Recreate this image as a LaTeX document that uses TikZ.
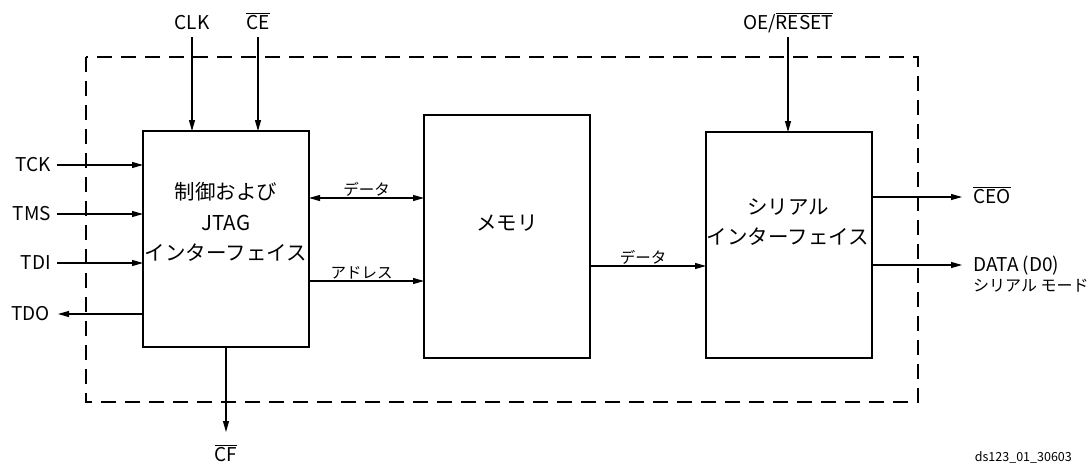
\documentclass[tikz,border=0pt]{standalone}
\usepackage{fontspec}
\setmainfont{Noto Sans CJK JP}
\usetikzlibrary{arrows.meta}
\newcommand{\ovl}[1]{$\overline{\mbox{#1}}$}
\begin{document}
\begin{tikzpicture}[x=1pt,y=-1pt,
  box/.style={draw, line width=2pt, inner sep=0pt, outer sep=0pt, rectangle},
  boxtxt/.style={align=center, font=\fontsize{20.5}{30.5}\selectfont, inner sep=0pt},
  sig/.style={font=\fontsize{19}{22}\selectfont, inner sep=0pt},
  lbl/.style={font=\fontsize{15.5}{18}\selectfont, inner sep=1.5pt},
  arr/.style={line width=1.1pt, -{Triangle[length=11pt,width=6pt]}},
  arrtwo/.style={line width=1.1pt, {Triangle[length=11pt,width=6pt]}-{Triangle[length=11pt,width=6pt]}},
  frame/.style={line width=2.8pt, dash pattern=on 15pt off 9pt}]
\useasboundingbox (0,0) rectangle (1091,464);
% dashed frame
\draw[frame] (86,57) rectangle (918,402);
% blocks
\node[box, minimum width=166pt, minimum height=216pt] (ctrl) at (226,239) {};
\node[box, minimum width=166pt, minimum height=243pt] (mem) at (507,236.5) {};
\node[box, minimum width=166pt, minimum height=226pt] (serial) at (789,245) {};
\node[boxtxt] (ctrltxt) at (226,222) {制御および\\JTAG\\インターフェイス};
\node[boxtxt] (memtxt) at (507,223) {メモリ};
\node[boxtxt] (sertxt) at (788,222) {シリアル\\インターフェイス};
% top signals
\node[sig, anchor=base] (clk) at (192,29) {CLK};
\node[sig, anchor=base] (ce) at (258,29) {\ovl{CE}};
\node[sig, anchor=base] (oe) at (788,29) {OE/\ovl{RESET}};
\draw[arr] ([yshift=-8pt]clk.base) -- (clk.base |- ctrl.north);
\draw[arr] ([yshift=-8pt]ce.base) -- (ce.base |- ctrl.north);
\draw[arr] ([yshift=-8pt]oe.base) -- (oe.base |- serial.north);
% bottom
\node[sig, anchor=base] (cf) at (226,461) {\ovl{CF}};
\draw[arr] (cf.base |- ctrl.south) -- ([yshift=29pt]cf.base);
% left signals
\node[sig, anchor=east] (tck) at (51,165) {TCK};
\node[sig, anchor=east] (tms) at (51,214) {TMS};
\node[sig, anchor=east] (tdi) at (51,263) {TDI};
\node[sig, anchor=east] (tdo) at (50,314) {TDO};
\draw[arr] ([xshift=6pt]tck.east) -- (tck.east -| ctrl.west);
\draw[arr] ([xshift=6pt]tms.east) -- (tms.east -| ctrl.west);
\draw[arr] ([xshift=6pt]tdi.east) -- (tdi.east -| ctrl.west);
\draw[arr] (tdo.east -| ctrl.west) -- ([xshift=8pt]tdo.east);
% internal
\draw[arrtwo] ([yshift=-67pt]ctrl.north east) coordinate (d1) -- node[lbl, above] (l1) {データ} (d1 -| mem.west);
\draw[arr] ([yshift=-150pt]ctrl.north east) coordinate (a1) -- node[lbl, above, xshift=-5pt] (l2) {アドレス} (a1 -| mem.west);
\draw[arr] ([yshift=-151pt]mem.north east) coordinate (d2) -- node[lbl, above, xshift=-5pt] (l3) {データ} (d2 -| serial.west);
% right signals
\node[sig, anchor=base west] (ceo) at (973,203) {\ovl{CEO}};
\node[sig, anchor=base west] (data) at (973,271) {DATA (D0)};
\node[font=\fontsize{16}{18}\selectfont, inner sep=0pt, anchor=base west] (datasub) at (973,291) {シリアル モード};
\draw[arr] ([yshift=-65pt]serial.north east) coordinate (c1) -- ([xshift=-11pt]c1 -| ceo.west);
\draw[arr] ([yshift=-133pt]serial.north east) coordinate (c2) -- ([xshift=-11pt]c2 -| data.west);
% figure id
\node[font=\fontsize{12.5}{14}\selectfont, inner sep=0pt, anchor=base east] (fid) at (1072,461) {ds123\_01\_30603};
\end{tikzpicture}
\end{document}
